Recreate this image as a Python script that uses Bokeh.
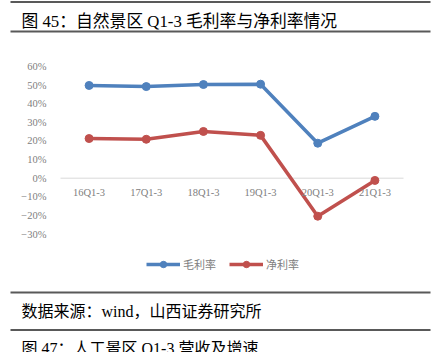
from bokeh.plotting import figure
from bokeh.models import (Range1d, FixedTicker, Label, BoxAnnotation,
                          Legend, LegendItem, ColumnDataSource)
from bokeh.embed import file_html
from bokeh.resources import INLINE

categories = ["16Q1-3", "17Q1-3", "18Q1-3", "19Q1-3", "20Q1-3", "21Q1-3"]
gross_margin = [49.8, 49.2, 50.3, 50.5, 18.8, 33.2]
net_margin = [21.3, 20.9, 25.1, 23.0, -20.4, -1.2]
y_ticks = [-30, -20, -10, 0, 10, 20, 30, 40, 50, 60]
y_tick_labels = ["−30%", "−20%", "−10%", "0%", "10%", "20%", "30%", "40%", "50%", "60%"]
series_names = ["毛利率", "净利率"]
title_text = "图 45：自然景区 Q1-3 毛利率与净利率情况"
source_text = "数据来源：wind，山西证券研究所"
next_title_text = "图 47：人工景区 Q1-3 营收及增速"

BLUE = "#4F81BD"
RED = "#C0504D"
GREY = "#808080"
RULE = "#595959"
FONT = "Liberation Serif, Noto Sans CJK SC"

W, H = 431, 352
PL, PR = 60, 403          # plot band (categories) in canvas px
n = len(categories)
band = (PR - PL) / n
x_start = -PL / band
x_end = n + (W - PR) / band
x_pos = [i + 0.5 for i in range(n)]

px_per = (233.3 - 65.7) / 90.0
zero_y = 177.7
y_top = zero_y / px_per
y_bot = -(H - zero_y) / px_per

p = figure(width=W, height=H, output_backend="svg", toolbar_location=None,
           x_range=Range1d(x_start, x_end), y_range=Range1d(y_bot, y_top),
           min_border=0, min_border_left=0, min_border_right=0,
           min_border_top=0, min_border_bottom=0)
p.outline_line_color = None
p.grid.visible = False
p.background_fill_color = "white"
p.border_fill_color = "white"

src = ColumnDataSource(dict(x=x_pos, g=gross_margin, n=net_margin))
l1 = p.line("x", "g", source=src, line_color=BLUE, line_width=3.5)
s1 = p.scatter("x", "g", source=src, size=8, fill_color=BLUE, line_color=BLUE)
l2 = p.line("x", "n", source=src, line_color=RED, line_width=3.5)
s2 = p.scatter("x", "n", source=src, size=8, fill_color=RED, line_color=RED)

# zero line (x axis line across the category band)
p.segment(x0=[0], y0=[0], x1=[n], y1=[0], line_color="#D9D9D9", line_width=1,
          level="underlay")

xa = p.xaxis[0]
xa.fixed_location = 0
xa.ticker = FixedTicker(ticks=x_pos)
xa.major_label_overrides = {x: c for x, c in zip(x_pos, categories)}
xa.axis_line_color = None
xa.major_tick_line_color = None
xa.minor_tick_line_color = None
xa.major_label_standoff = 3
xa.major_label_text_color = GREY
xa.major_label_text_font = "Liberation Serif"
xa.major_label_text_font_size = "10.5px"

ya = p.yaxis[0]
ya.fixed_location = 0
ya.ticker = FixedTicker(ticks=y_ticks)
ya.major_label_overrides = {t: lab for t, lab in zip(y_ticks, y_tick_labels)}
ya.axis_line_color = None
ya.major_tick_line_color = None
ya.minor_tick_line_color = None
ya.major_label_standoff = 8
ya.major_label_text_color = GREY
ya.major_label_text_font = "Liberation Serif"
ya.major_label_text_font_size = "10.5px"

legend = Legend(items=[LegendItem(label=series_names[0], renderers=[l1, s1]),
                       LegendItem(label=series_names[1], renderers=[l2, s2])],
                orientation="horizontal", location=(146, H - 272),
                glyph_width=34, glyph_height=16, label_standoff=3, spacing=13,
                padding=0, margin=0, border_line_color=None,
                background_fill_alpha=0,
                label_text_font=FONT, label_text_font_size="11px",
                label_text_color=GREY)
p.add_layout(legend, "center")


def rule(y):
    p.add_layout(BoxAnnotation(left=10, right=430, top=H - (y - 1), bottom=H - (y + 1),
                               left_units="screen", right_units="screen",
                               top_units="screen", bottom_units="screen",
                               fill_color=RULE, fill_alpha=1, line_color=None))


def caption(txt, y, size):
    p.add_layout(Label(x=21, y=H - y, x_units="screen", y_units="screen",
                       text=txt, text_font=FONT, text_font_size=size,
                       text_color="black", text_baseline="middle", text_align="left"))


rule(1.5)
caption(title_text, 20.5, "16.8px")
rule(31)
rule(292)
caption(source_text, 311, "16px")
rule(329.5)
caption(next_title_text, 348, "16px")

open("out.html", "w").write(file_html(p, INLINE))
